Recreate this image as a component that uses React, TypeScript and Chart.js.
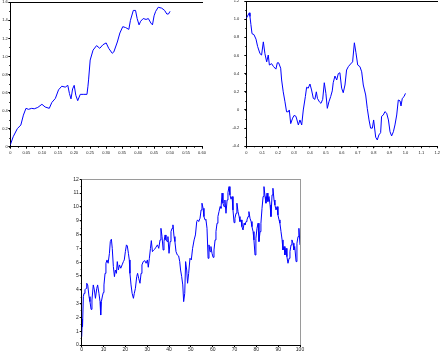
import React, { useEffect, useRef } from 'react';
import { Chart, registerables } from 'chart.js';

Chart.register(...registerables);

// ---- Panel A (top-left) ----
const walkA_t = [0,0.009,0.022,0.033,0.041,0.049,0.057,0.067,0.075,0.086,
  0.099,0.109,0.122,0.130,0.141,0.151,0.161,0.172,0.180,0.185,
  0.190,0.195,0.200,0.205,0.211,0.219,0.230,0.240,0.243,0.245,
  0.250,0.259,0.270,0.280,0.290,0.300,0.308,0.319,0.324,0.335,
  0.343,0.352,0.361,0.371,0.376,0.385,0.392,0.397,0.403,0.408,
  0.416,0.425,0.432,0.440,0.445,0.450,0.455,0.463,0.474,0.483,
  0.490,0.495,0.500];
const walkA_v = [0.02,0.11,0.20,0.24,0.35,0.425,0.414,0.425,0.42,0.435,
  0.47,0.44,0.425,0.49,0.535,0.63,0.67,0.66,0.68,0.59,
  0.53,0.64,0.68,0.57,0.51,0.58,0.58,0.58,0.67,0.74,
  0.96,1.07,1.12,1.09,1.13,1.15,1.09,1.035,1.05,1.16,
  1.26,1.33,1.32,1.30,1.40,1.51,1.51,1.42,1.35,1.39,
  1.42,1.41,1.42,1.37,1.35,1.45,1.50,1.545,1.535,1.51,
  1.47,1.47,1.50];

// ---- Panel B (top-right) ----
const walkB_t = [0,0.008,0.019,0.023,0.029,0.036,0.048,0.061,0.071,0.086,
  0.096,0.107,0.117,0.128,0.138,0.145,0.159,0.17,0.186,0.195,
  0.203,0.216,0.222,0.232,0.243,0.253,0.264,0.27,0.279,0.291,
  0.30,0.312,0.327,0.337,0.348,0.358,0.371,0.379,0.389,0.4,
  0.41,0.421,0.431,0.44,0.447,0.459,0.469,0.48,0.49,0.50,
  0.509,0.519,0.53,0.54,0.546,0.557,0.568,0.578,0.588,0.599,
  0.609,0.62,0.63,0.641,0.655,0.668,0.679,0.689,0.70,0.714,
  0.725,0.735,0.75,0.76,0.771,0.781,0.792,0.80,0.813,0.823,
  0.833,0.844,0.85,0.861,0.871,0.882,0.893,0.903,0.913,0.924,
  0.934,0.945,0.955,0.966,0.972,0.98,0.991,1.0];
const walkB_v = [1.01,1.035,1.07,1.03,0.94,0.84,0.83,0.78,0.70,0.62,
  0.605,0.75,0.62,0.53,0.605,0.495,0.51,0.48,0.45,0.52,
  0.52,0.46,0.33,0.20,0.09,-0.02,-0.02,0.0,-0.15,-0.09,
  -0.06,-0.07,-0.165,-0.11,-0.165,0.0,0.147,0.25,0.24,0.286,
  0.22,0.128,0.117,0.20,0.128,0.09,0.073,0.117,0.30,0.183,
  0.018,0.09,0.147,0.21,0.30,0.374,0.33,0.40,0.41,0.24,
  0.19,0.275,0.44,0.477,0.506,0.53,0.74,0.63,0.495,0.477,
  0.42,0.275,0.165,0.018,-0.11,-0.20,-0.20,-0.11,-0.30,-0.33,
  -0.275,-0.25,-0.07,-0.055,-0.018,-0.036,-0.11,-0.24,-0.286,-0.24,
  -0.165,-0.055,0.11,0.10,0.044,0.128,0.147,0.183];

// ---- Panel C (bottom) ----
const walkC_t = [0,0.15,0.3,0.45,0.76,1.07,1.5,2.0,2.3,2.75,
  3.36,3.8,4.3,4.7,5.3,5.8,6.3,6.9,7.3,7.9,
  8.4,8.7,9.0,9.5,9.9,10.2,10.7,11.1,11.6,12.1,
  12.7,13.1,13.6,14.0,14.5,15.0,15.4,15.9,16.3,16.8,
  17.3,17.9,18.5,19.1,19.5,20.0,20.5,20.9,21.4,21.8,
  22.1,22.6,23.1,23.7,24.1,24.6,25.2,25.6,26.1,26.7,
  27.2,27.6,28.2,28.9,29.5,30.1,30.5,31.0,31.5,31.9,
  32.4,32.8,33.4,34.0,34.7,35.3,35.9,36.3,36.8,37.3,
  37.7,38.2,38.6,39.1,39.5,40.0,40.5,40.9,41.4,41.8,
  42.3,42.7,43.2,43.8,44.4,44.9,45.3,45.8,46.3,46.7,
  47.2,47.6,48.1,48.5,49.0,49.6,50.2,50.8,51.5,52.1,
  52.7,53.1,53.6,54.2,54.7,55.1,55.6,56.0,56.5,56.9,
  57.4,57.9,58.3,58.8,59.2,59.7,60.2,60.6,61.1,61.5,
  62.0,62.4,62.9,63.4,63.8,64.3,64.7,65.2,65.6,66.1,
  66.6,67.0,67.5,67.9,68.4,68.9,69.3,69.8,70.2,70.7,
  71.1,71.6,72.1,72.5,73.0,73.4,73.9,74.4,74.8,75.3,
  75.7,76.2,76.6,77.1,77.6,78.0,78.5,78.9,79.4,79.8,
  80.3,80.8,81.2,81.7,82.1,82.6,83.1,83.5,84.0,84.4,
  84.9,85.3,85.8,86.3,86.7,87.2,87.6,88.1,88.5,89.0,
  89.5,89.9,90.4,90.8,91.3,91.8,92.2,92.7,93.1,93.6,
  94.0,94.5,95.0,95.4,95.9,96.3,96.8,97.2,97.6,98.2,
  98.6,99.1,99.5,100];
const walkC_v = [0.6,1.33,1.86,1.33,3.5,3.74,4.0,4.1,4.47,4.35,
  3.5,3.14,2.58,3.26,4.35,3.99,3.38,4.1,4.35,3.74,
  3.14,2.17,3.14,3.55,3.8,4.35,5.19,5.92,6.16,5.92,
  6.64,7.49,7.66,7.0,5.68,4.95,5.43,5.19,6.04,5.43,
  5.8,5.56,5.8,6.04,6.16,6.76,7.25,7.17,6.64,6.16,
  5.19,4.35,3.74,3.38,3.74,4.1,4.95,5.19,4.83,4.47,
  5.19,5.8,6.04,6.11,5.92,6.16,5.63,6.28,7.0,7.56,
  6.76,6.84,6.93,7.08,7.25,7.0,7.61,8.45,7.85,6.88,
  7.49,7.97,7.61,7.49,7.85,6.64,7.49,8.21,8.45,8.7,
  7.85,7.49,6.76,6.52,6.45,6.04,5.43,4.95,4.35,3.14,
  3.74,6.04,5.43,4.47,5.19,6.28,6.16,7.0,7.61,7.97,
  8.94,9.06,8.94,9.18,9.78,10.27,9.9,9.3,9.06,9.1,
  8.45,6.28,7.25,6.76,7.13,6.64,6.35,6.88,7.61,8.21,
  8.82,9.3,9.66,10.02,9.9,11.0,10.27,10.02,10.5,9.54,
  10.5,11.04,11.47,10.87,10.56,10.75,9.78,8.86,9.18,9.54,
  10.27,9.66,9.3,8.94,9.06,8.57,8.33,8.82,8.7,8.94,
  9.06,9.3,9.66,9.18,8.94,8.57,8.21,7.61,6.52,7.73,
  8.45,8.82,7.49,8.21,8.82,9.9,10.75,11.47,10.75,10.27,
  11.0,10.39,10.75,10.14,9.3,10.87,11.35,10.5,10.14,9.78,
  10.02,9.42,9.06,8.82,8.21,7.61,6.88,7.13,6.52,7.0,
  6.4,5.92,6.28,6.76,7.25,7.61,7.37,6.88,7.13,6.04,
  7.37,7.85,8.45,7.25];

// axis ranges / tick steps
const axisA = { xMin: 0, xMax: 0.6, xStep: 0.05, yMin: 0, yMax: 1.6, yStep: 0.2 };
const axisB = { xMin: 0, xMax: 1.2, xStep: 0.1, yMin: -0.4, yMax: 1.2, yStep: 0.2 };
const axisC = { xMin: 0, xMax: 100, xStep: 10, yMin: 0, yMax: 12, yStep: 1 };

const FONT = 'Liberation Sans, Arial, sans-serif';
const LINE = '#0000ff';

const minorTicksPlugin = {
  id: 'minorTicks',
  afterDraw(chart: any, _args: any, opts: any) {
    const ctx = chart.ctx;
    const items = (opts && opts.items) || [];
    ctx.save();
    ctx.strokeStyle = '#000';
    ctx.lineWidth = 1;
    for (const it of items) {
      const scale = chart.scales[it.id];
      if (!scale) continue;
      const n = Math.round((scale.max - scale.min) / it.step);
      for (let i = 0; i <= n; i++) {
        const v = scale.min + i * it.step;
        const p = Math.round(scale.getPixelForValue(v)) + 0.5;
        ctx.beginPath();
        if (scale.isHorizontal()) {
          ctx.moveTo(p, scale.top);
          ctx.lineTo(p, scale.top + it.len);
        } else {
          ctx.moveTo(scale.right, p);
          ctx.lineTo(scale.right - it.len, p);
        }
        ctx.stroke();
      }
    }
    ctx.restore();
  },
};

type PanelSpec = {
  xs: number[];
  ys: number[];
  axis: { xMin: number; xMax: number; xStep: number; yMin: number; yMax: number; yStep: number };
  yAxisWidth: number;
  xAxisHeight: number;
  padding: { left: number; top: number; right: number; bottom: number };
  fontSize: number;
  xLabelPad: number;
  yLabelPad: number;
  boxColor: string;
  rightBorder: boolean;
};

function makeConfig(p: PanelSpec): any {
  const tickFont = { family: FONT, size: p.fontSize, lineHeight: 1.2 };
  const fixH = (h: number) => (s: any) => {
    s.height = h;
    s.paddingLeft = 0; s.paddingRight = 0; s.paddingTop = 0; s.paddingBottom = 0;
  };
  const fixW = (w: number) => (s: any) => {
    s.width = w;
    s.paddingLeft = 0; s.paddingRight = 0; s.paddingTop = 0; s.paddingBottom = 0;
  };
  const scales: any = {
    x: {
      type: 'linear',
      position: 'bottom',
      min: p.axis.xMin,
      max: p.axis.xMax,
      ticks: {
        stepSize: p.axis.xStep,
        autoSkip: false,
        maxRotation: 0,
        minRotation: 0,
        padding: p.xLabelPad,
        color: '#222',
        font: tickFont,
      },
      grid: { display: true, drawOnChartArea: false, drawTicks: true, tickLength: 2, tickColor: '#000', tickWidth: 1 },
      border: { display: true, color: '#000', width: 1 },
      afterFit: fixH(p.xAxisHeight),
    },
    y: {
      type: 'linear',
      position: 'left',
      min: p.axis.yMin,
      max: p.axis.yMax,
      ticks: {
        stepSize: p.axis.yStep,
        autoSkip: false,
        padding: p.yLabelPad,
        color: '#222',
        font: tickFont,
      },
      grid: { display: true, drawOnChartArea: false, drawTicks: true, tickLength: 2, tickColor: '#000', tickWidth: 1 },
      border: { display: true, color: '#000', width: 1 },
      afterFit: fixW(p.yAxisWidth),
    },
    xTop: {
      type: 'linear',
      position: 'top',
      min: 0,
      max: 1,
      display: true,
      ticks: { display: false },
      grid: { display: false, drawTicks: false },
      border: { display: true, color: p.boxColor, width: 1 },
      afterFit: fixH(0),
    },
  };
  if (p.rightBorder) {
    scales.yRight = {
      type: 'linear',
      position: 'right',
      min: 0,
      max: 1,
      display: true,
      ticks: { display: false },
      grid: { display: false, drawTicks: false },
      border: { display: true, color: p.boxColor, width: 1 },
      afterFit: fixW(0),
    };
  }
  return {
    type: 'line',
    data: {
      datasets: [
        {
          data: p.xs.map((x, i) => ({ x, y: p.ys[i] })),
          borderColor: LINE,
          borderWidth: 1,
          pointRadius: 0,
          fill: false,
          tension: 0,
        },
      ],
    },
    options: {
      responsive: false,
      maintainAspectRatio: false,
      animation: false,
      parsing: true,
      layout: { padding: p.padding },
      plugins: {
        legend: { display: false },
        tooltip: { enabled: false },
        minorTicks: {
          items: [
            { id: 'x', step: p.axis.xStep / 2, len: 1 },
            { id: 'y', step: p.axis.yStep / 2, len: 1 },
          ],
        },
      },
      scales,
    },
    plugins: [minorTicksPlugin],
  };
}

function Panel(props: { spec: PanelSpec; left: number; top: number; width: number; height: number }) {
  const ref = useRef<HTMLCanvasElement | null>(null);
  useEffect(() => {
    if (!ref.current) return;
    const chart = new Chart(ref.current, makeConfig(props.spec));
    return () => chart.destroy();
  }, []);
  return (
    <canvas
      ref={ref}
      width={props.width}
      height={props.height}
      style={{ position: 'absolute', left: props.left, top: props.top, width: props.width, height: props.height }}
    />
  );
}

const specA: PanelSpec = {
  xs: walkA_t, ys: walkA_v, axis: axisA,
  yAxisWidth: 10.3, xAxisHeight: 15.3,
  padding: { left: 0, top: 2.3, right: 18, bottom: 0 },
  fontSize: 4, xLabelPad: 2, yLabelPad: 0.5,
  boxColor: '#000', rightBorder: false,
};

const specB: PanelSpec = {
  xs: walkB_t, ys: walkB_v, axis: axisB,
  yAxisWidth: 21.3, xAxisHeight: 15.7,
  padding: { left: 0, top: 1, right: 2.7, bottom: 0 },
  fontSize: 4, xLabelPad: 2, yLabelPad: 5,
  boxColor: '#000', rightBorder: false,
};

const specC: PanelSpec = {
  xs: walkC_t, ys: walkC_v, axis: axisC,
  yAxisWidth: 21.7, xAxisHeight: 8,
  padding: { left: 0, top: 9.3, right: 10, bottom: 0 },
  fontSize: 5, xLabelPad: 0, yLabelPad: 1,
  boxColor: '#9a9a9a', rightBorder: true,
};

export default function App() {
  return (
    <div style={{ position: 'absolute', left: 0, top: 0, width: 440, height: 353, background: '#fff' }}>
      <Panel spec={specA} left={0} top={0} width={220} height={162} />
      <Panel spec={specB} left={225} top={0} width={215} height={162} />
      <Panel spec={specC} left={60} top={170} width={250} height={183} />
    </div>
  );
}
